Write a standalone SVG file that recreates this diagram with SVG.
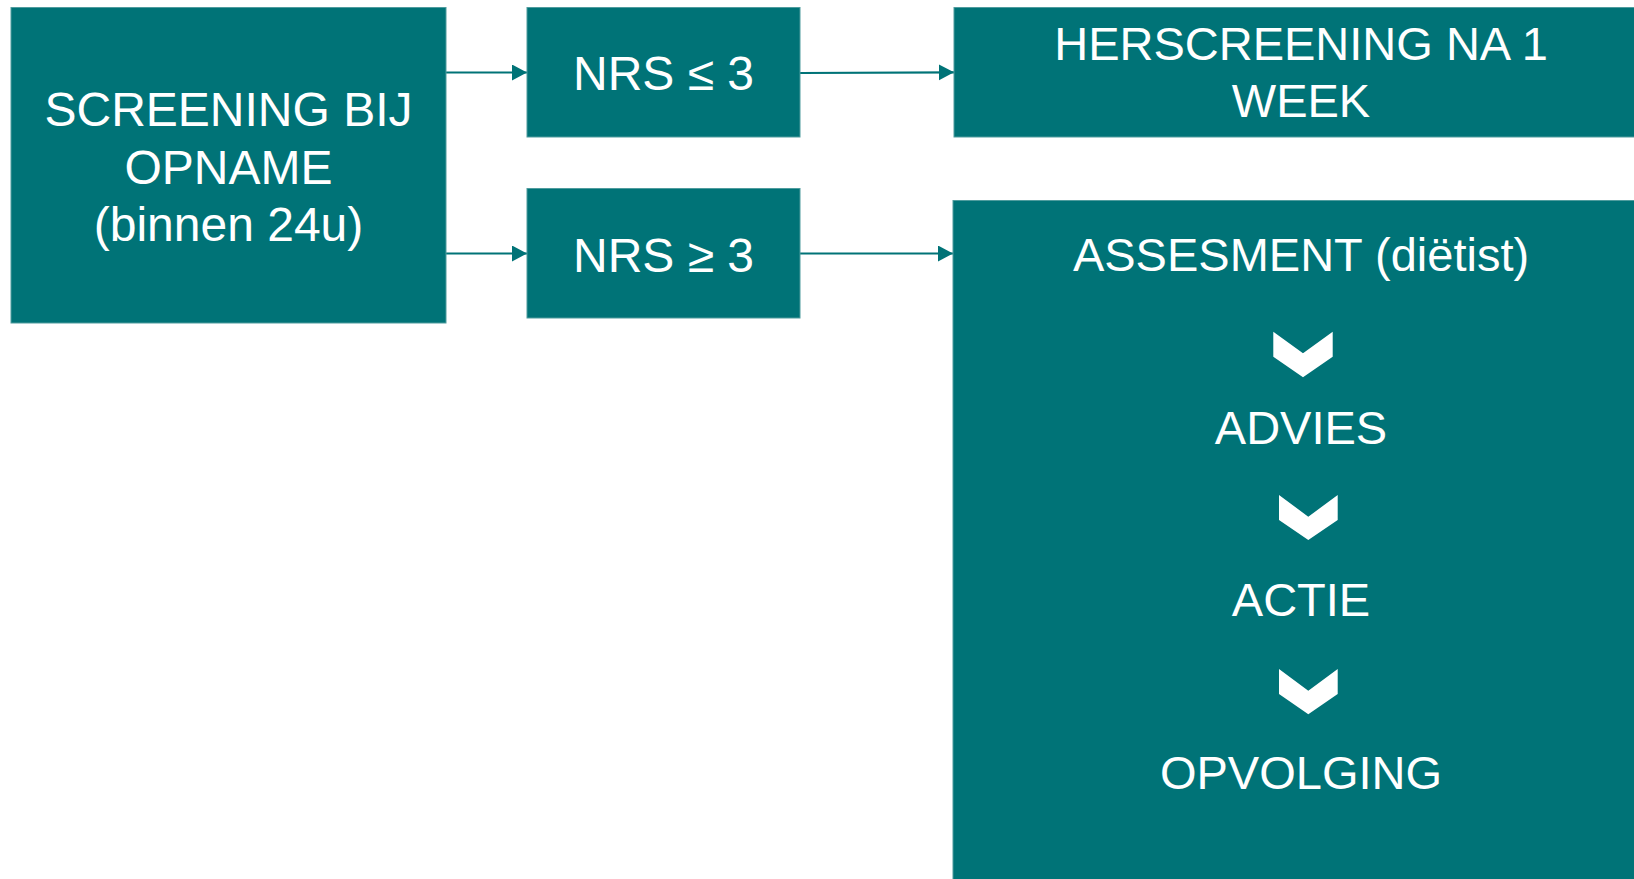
<svg xmlns="http://www.w3.org/2000/svg" width="1634" height="879" viewBox="0 0 1634 879">
<style>
  .box { fill: #007377; stroke: #4f9c9e; stroke-width: 1; }
  .t { font-family: "Liberation Sans", Arial, sans-serif; fill: #ffffff; text-anchor: middle; }
  .t48 { font-size: 48px; }
  .t47 { font-size: 47px; }
  .conn { stroke: #007377; stroke-width: 2.2; fill: none; }
  .chev { fill: #ffffff; }
</style>
<defs>
  <marker id="ah" markerUnits="userSpaceOnUse" markerWidth="16" markerHeight="18" refX="15" refY="8" orient="auto">
    <path d="M0,0 L15,8 L0,16 Z" fill="#007377"/>
  </marker>
</defs>
<rect width="1634" height="879" fill="#ffffff"/>

<g id="connectors">
  <line class="conn" x1="446" y1="72.5" x2="527" y2="72.5" marker-end="url(#ah)"/>
  <line class="conn" x1="446" y1="253.5" x2="527" y2="253.5" marker-end="url(#ah)"/>
  <line class="conn" x1="800" y1="73" x2="954" y2="72.3" marker-end="url(#ah)"/>
  <line class="conn" x1="800" y1="253.5" x2="953" y2="253.5" marker-end="url(#ah)"/>
</g>

<g id="screening">
  <rect class="box" x="11" y="7.5" width="435" height="315.5"/>
  <text class="t t48" x="228.5" y="126">SCREENING BIJ</text>
  <text class="t t48" x="228.5" y="184">OPNAME</text>
  <text class="t t48" x="228.5" y="241">(binnen 24u)</text>
</g>

<g id="nrs-le">
  <rect class="box" x="527" y="7.5" width="273" height="129.5"/>
  <text class="t t48" x="663.5" y="90">NRS ≤ 3</text>
</g>

<g id="nrs-ge">
  <rect class="box" x="527" y="188.5" width="273" height="129.5"/>
  <text class="t t48" x="663.5" y="271.5">NRS ≥ 3</text>
</g>

<g id="herscreening">
  <rect class="box" x="954" y="7.5" width="700" height="129.5"/>
  <text class="t t47" x="1301" y="60">HERSCREENING NA 1</text>
  <text class="t t47" x="1301" y="117">WEEK</text>
</g>

<g id="assesment">
  <rect class="box" x="953" y="200.5" width="700" height="700"/>
  <text class="t t47" x="1301" y="270.5">ASSESMENT (diëtist)</text>
  <polygon class="chev" points="1273.3,331.7 1303,353.3 1332.7,331.7 1332.7,356.7 1303,377.3 1273.3,356.7"/>
  <text class="t t47" x="1301" y="444">ADVIES</text>
  <polygon class="chev" points="1279,495 1308.3,516.7 1337.7,495 1337.7,520 1308.3,540 1279,520"/>
  <text class="t t47" x="1301" y="616">ACTIE</text>
  <polygon class="chev" points="1279,669 1308.3,690.7 1337.7,669 1337.7,694 1308.3,714.3 1279,694"/>
  <text class="t t47" x="1301" y="788.5">OPVOLGING</text>
</g>
</svg>
